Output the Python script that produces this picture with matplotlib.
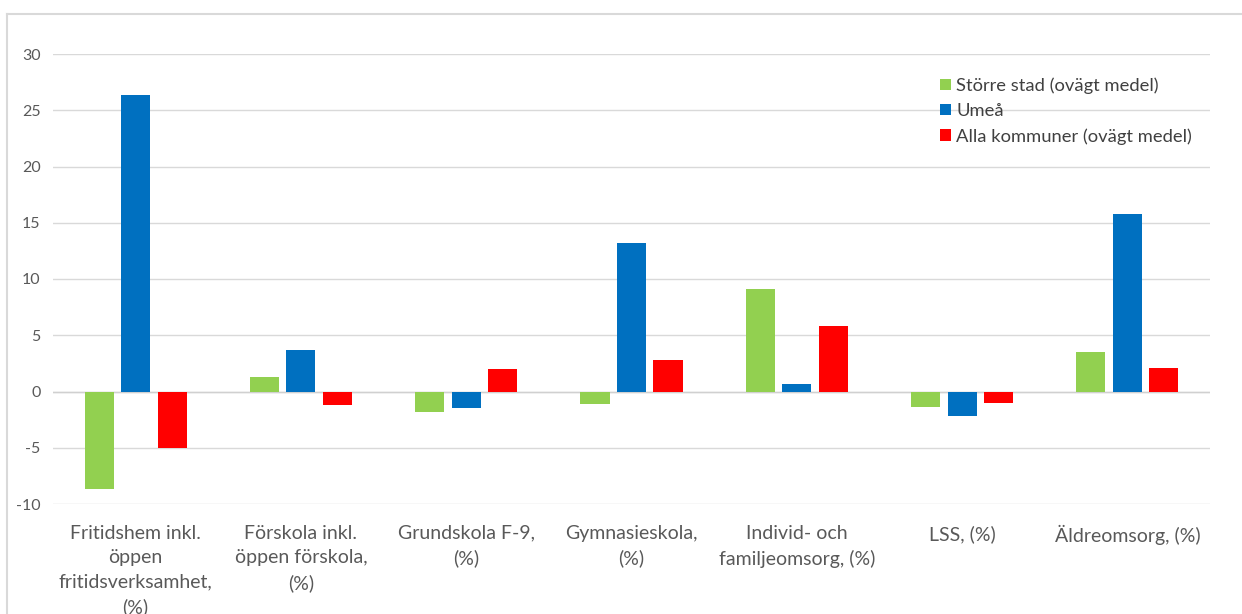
import matplotlib.pyplot as plt
import numpy as np
from matplotlib.lines import Line2D

categories = ["Fritidshem inkl.\nöppen\nfritidsverksamhet,\n(%)",
              "Förskola inkl.\nöppen förskola,\n(%)",
              "Grundskola F-9,\n(%)",
              "Gymnasieskola,\n(%)",
              "Individ- och\nfamiljeomsorg, (%)",
              "LSS, (%)",
              "Äldreomsorg, (%)"]
storre_stad = [-8.7, 1.3, -1.8, -1.1, 9.1, -1.4, 3.5]
umea = [26.4, 3.7, -1.5, 13.2, 0.7, -2.2, 15.8]
alla_kommuner = [-5.0, -1.2, 2.0, 2.8, 5.8, -1.0, 2.1]
series_names = ["Större stad (ovägt medel)", "Umeå", "Alla kommuner (ovägt medel)"]
colors = ["#92D050", "#0070C0", "#FF0000"]

plt.rcParams['font.family'] = ['Lato', 'DejaVu Sans']
plt.rcParams['axes.unicode_minus'] = False

fig = plt.figure(figsize=(12.42, 6.14), dpi=100)
ax = fig.add_axes([53 / 1242, 1 - 504 / 614, (1210 - 53) / 1242, (504 - 54) / 614])

x = np.arange(len(categories))
w = 0.176
step = 0.221
for i, (vals, c, name) in enumerate(zip([storre_stad, umea, alla_kommuner], colors, series_names)):
    ax.bar(x + (i - 1) * step, vals, width=w, color=c, label=name, zorder=3)

ax.set_xlim(-0.5, len(categories) - 0.5)
ax.set_ylim(-10, 30)
ax.set_yticks(range(-10, 31, 5))
ax.grid(axis='y', color='#D9D9D9', linewidth=1, zorder=0)
ax.axhline(0, color='#D0D0D0', linewidth=1, zorder=2)
for s in ax.spines.values():
    s.set_visible(False)
ax.tick_params(axis='both', length=0, colors='#595959')
ax.tick_params(axis='y', labelsize=11.5, pad=9)
ax.set_xticks(x)
ax.set_xticklabels(categories, fontsize=14, color='#595959', linespacing=1.52)
ax.tick_params(axis='x', pad=15)

leg = ax.legend(loc='upper left', bbox_to_anchor=(0.752, 0.985), frameon=False,
                fontsize=13.2, handlelength=0.6, handleheight=0.6, handletextpad=0.3,
                labelspacing=0.5, labelcolor='#404040')

# outer chart frame (partly cropped)
fig.add_artist(Line2D([7 / 1242, 1], [1 - 14 / 614, 1 - 14 / 614], color='#D9D9D9', linewidth=1.5,
                      transform=fig.transFigure))
fig.add_artist(Line2D([7 / 1242, 7 / 1242], [0, 1 - 14 / 614], color='#D9D9D9', linewidth=1.5,
                      transform=fig.transFigure))

fig.savefig("out.png", dpi=100)
